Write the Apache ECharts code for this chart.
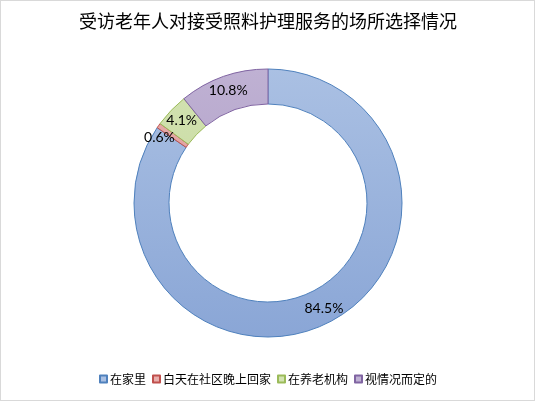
<!DOCTYPE html>
<html>
<head>
<meta charset="utf-8">
<script src="https://cdn.jsdelivr.net/npm/echarts@6/dist/echarts.min.js"></script>
<style>
  html, body { margin: 0; padding: 0; background: #fff; }
  #frame { width: 533px; height: 399px; border: 1px solid #d9d9d9; overflow: hidden; }
  #chart { width: 536px; height: 402px; margin: -1px 0 0 -1px; }
</style>
</head>
<body>
<div id="frame"><div id="chart"></div></div>
<script>
// Where surveyed elderly people prefer to receive care (%)
const titleText = '受访老年人对接受照料护理服务的场所选择情况';
const categories = ['在家里', '白天在社区晚上回家', '在养老机构', '视情况而定的'];
const shares = [84.5, 0.6, 4.1, 10.8];

// fill gradient (top, bottom) and outline for each slice
const fills = [['#aac0e3', '#8aa6d6'], ['#e8aeac', '#d58f8d'], ['#d3e3b2', '#bfd395'], ['#bfb1d3', '#a896c1']];
const outlines = ['#4f81bd', '#c0504d', '#9bbb59', '#8064a2'];

const cx = 268, cy = 203, outerR = 134, innerR = 99;

function grad(pair) {
  return new echarts.graphic.LinearGradient(0, cy - outerR, 0, cy + outerR,
    [{ offset: 0, color: pair[0] }, { offset: 1, color: pair[1] }], true);
}

const data = categories.map((name, i) => {
  const item = {
    name: name,
    value: shares[i],
    itemStyle: { color: grad(fills[i]), borderColor: outlines[i], borderWidth: 1 }
  };
  if (i === 1) item.label = { offset: [-11, 4] };
  return item;
});

const chart = echarts.init(document.getElementById('chart'), null, { renderer: 'canvas' });
chart.setOption({
  animation: false,
  backgroundColor: '#ffffff',
  title: {
    text: titleText,
    left: 'center',
    top: 7,
    textStyle: { fontFamily: 'Noto Sans CJK SC', fontSize: 18, fontWeight: 'normal', color: '#000' }
  },
  legend: {
    bottom: 12,
    left: 'center',
    icon: 'rect',
    itemWidth: 7,
    itemHeight: 7,
    itemGap: 6,
    textStyle: { fontFamily: 'Noto Sans CJK SC', fontSize: 12, color: '#000', padding: [0, 0, 0, -2] },
    data: categories
  },
  series: [{
    type: 'pie',
    center: [cx, cy],
    radius: [innerR, outerR],
    startAngle: 90,
    clockwise: true,
    avoidLabelOverlap: false,
    label: {
      show: true,
      position: 'inside',
      formatter: p => p.value.toFixed(1) + '%',
      fontFamily: 'Lato',
      fontSize: 14,
      color: '#000'
    },
    labelLine: { show: false },
    emphasis: { disabled: true },
    data: data
  }]
});
</script>
</body>
</html>
